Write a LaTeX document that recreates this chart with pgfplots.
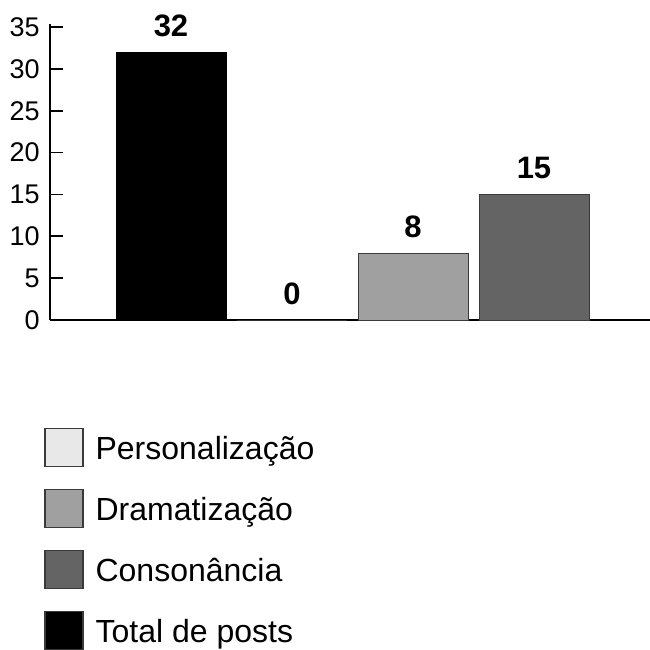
\documentclass[border=0pt]{standalone}
\usepackage{pgfplots}
\pgfplotsset{compat=1.18}
\usepackage{fontspec}
\setmainfont{Liberation Sans}

\definecolor{persC}{HTML}{E8E8E8}
\definecolor{dramC}{HTML}{A0A0A0}
\definecolor{consC}{HTML}{646464}
\definecolor{edgeC}{HTML}{3A3A3A}

\begin{document}
\begin{tikzpicture}
\begin{axis}[
  at={(0,0)}, anchor=south west,
  x=60.5pt, y=4.186pt,
  xmin=-1.0, xmax=3.96,
  ymin=0, ymax=35.3,
  ybar, bar width=55pt,
  axis x line=bottom, axis y line=left,
  axis line style={-, line width=0.8pt, black},
  xtick=\empty,
  ytick={0,5,...,35},
  tick align=inside,
  major tick length=6.5pt,
  tick style={line width=0.8pt, black},
  /pgf/number format/assume math mode=true,
  yticklabel style={font=\fontsize{13.5}{15}\selectfont, inner sep=0pt, xshift=-5pt},
  nodes near coords,
  nodes near coords style={font=\bfseries\fontsize{15.5}{18}\selectfont,
    inner sep=0pt, anchor=south, yshift=7.5pt, black},
  legend style={at={(-0.01,-0.365)}, anchor=north west, draw=none, fill=none,
    inner sep=0pt, row sep=10.9pt, column sep=6pt,
    font=\fontsize{16}{19}\selectfont,
    nodes={inner sep=0pt}, cells={anchor=west}},
  legend image code/.code={
    \draw[#1, line width=0.6pt, draw=edgeC] (0pt,-8.8pt) rectangle (19pt,10.2pt);
  },
]
% bars: one category each, plotted in the order of the legend
\addplot[fill=persC, draw=edgeC, bar shift=0pt] coordinates {(1,0)};
\addlegendentry{Personalização}
\addplot[fill=dramC, draw=edgeC, bar shift=0pt] coordinates {(2,8)};
\addlegendentry{Dramatização}
\addplot[fill=consC, draw=edgeC, bar shift=0pt] coordinates {(3,15)};
\addlegendentry{Consonância}
\addplot[fill=black, draw=black, bar shift=0pt] coordinates {(0,32)};
\addlegendentry{Total de posts}
\end{axis}
\pgfresetboundingbox
\path (-25pt,-165pt) rectangle (300pt,160pt);
\end{tikzpicture}
\end{document}
